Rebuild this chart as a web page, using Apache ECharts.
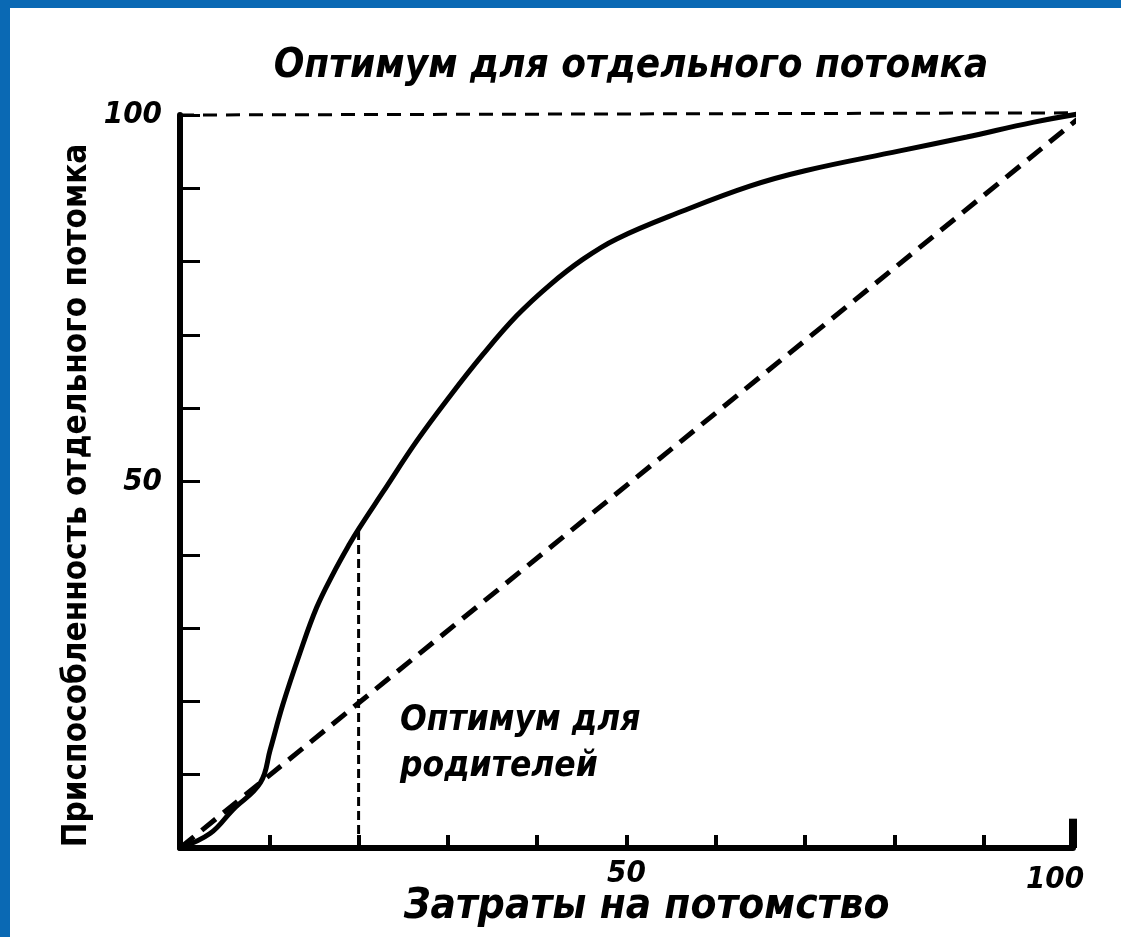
<!DOCTYPE html>
<html>
<head>
<meta charset="utf-8">
<script src="https://cdn.jsdelivr.net/npm/echarts@6/dist/echarts.min.js"></script>
<style>
  html, body { margin: 0; padding: 0; background: #fff; }
  #chart { width: 1121px; height: 937px; }
  .edge { position: absolute; background: #0a69b4; }
</style>
</head>
<body>
<div id="chart"></div>
<div class="edge" style="left:0;top:0;width:10px;height:937px"></div>
<div class="edge" style="left:0;top:0;width:1121px;height:8px"></div>
<script>
// затраты на потомство -> приспособленность (сплошная кривая)
var costX = [0, 3.4, 5.9, 9.0, 10.1, 11.5, 13.4, 15.3, 17.1, 19.0, 20.0, 22.7, 26.5, 30.2, 33.9, 37.7, 41.4, 45.1, 48.9, 56.3, 63.8, 70, 80.6, 88.1, 95.5, 101.4];
var fitness = [0, 2.0, 5.2, 8.9, 13.4, 19.5, 26.5, 32.8, 37.3, 41.5, 43.5, 48.5, 55.5, 61.6, 67.3, 72.6, 76.8, 80.3, 83.1, 86.9, 90.3, 92.4, 95.1, 97.0, 99.0, 100.3];

// пунктирная диагональ и верхняя граница
var diagX = [0, 101.4];
var diagY = [0, 100.3];
var topX = [0, 101.4];
var topY = [100, 100.3];

// оптимум для родителей
var parentX = [20, 20];
var parentY = [0, 43.3];

// высокая засечка в конце оси x
var endTickX = [100, 100];
var endTickY = [0, 4];

var xLabels = [50, 100];
var yLabels = [50, 100];

function pairs(xs, ys) {
  var out = [];
  for (var i = 0; i < xs.length; i++) out.push([xs[i], ys[i]]);
  return out;
}

var font = '"DejaVu Sans Condensed", "Liberation Sans Narrow", "DejaVu Sans", sans-serif';
var labelStyle = { fontFamily: font, fontSize: 31, fontWeight: 'bold', fontStyle: 'italic', color: '#000' };

var chart = echarts.init(document.getElementById('chart'));

var option = {
  backgroundColor: '#fff',
  animation: false,
  title: {
    text: 'Оптимум для отдельного потомка',
    left: 626,
    top: 42,
    textAlign: 'center',
    textStyle: { fontFamily: font, fontSize: 40, fontWeight: 'bold', fontStyle: 'italic', color: '#000' }
  },
  grid: { left: 180, top: 115, right: 48, bottom: 89, outerBoundsMode: 'none', containLabel: false },
  xAxis: {
    type: 'value',
    min: 0,
    max: 100,
    interval: 10,
    splitLine: { show: false },
    axisLine: { lineStyle: { color: '#000', width: 6 } },
    axisTick: { inside: true, length: 13, lineStyle: { color: '#000', width: 4 } },
    axisLabel: {
      margin: 10,
      fontFamily: font, fontSize: 31, fontWeight: 'bold', fontStyle: 'italic', color: '#000',
      formatter: function (v) {
        if (v === 100) return '{end|100}';
        return xLabels.indexOf(v) >= 0 ? String(v) : '';
      },
      rich: {
        end: Object.assign({ padding: [6, 36, 0, 0] }, labelStyle)
      }
    },
    name: 'Затраты на потомство',
    nameLocation: 'middle',
    nameGap: 38,
    nameMoveOverlap: false,
    nameTextStyle: { fontFamily: font, fontSize: 42, fontWeight: 'bold', fontStyle: 'italic', color: '#000', padding: [0, 0, 0, 40] }
  },
  yAxis: {
    type: 'value',
    min: 0,
    max: 100,
    interval: 10,
    splitLine: { show: false },
    axisLine: { lineStyle: { color: '#000', width: 6 } },
    axisTick: { inside: true, length: 20, lineStyle: { color: '#000', width: 3 } },
    axisLabel: {
      margin: 18,
      fontFamily: font, fontSize: 31, fontWeight: 'bold', fontStyle: 'italic', color: '#000',
      formatter: function (v) { return yLabels.indexOf(v) >= 0 ? String(v) : ''; }
    },
    name: 'Приспособленность отдельного потомка',
    nameLocation: 'middle',
    nameRotate: 90,
    nameGap: 86,
    nameMoveOverlap: false,
    nameTextStyle: { fontFamily: font, fontSize: 33, fontWeight: 'bold', color: '#000', padding: [0, 28, 0, 0] }
  },
  graphic: [
    {
      type: 'text',
      left: 400,
      top: 698,
      style: {
        text: 'Оптимум для\nродителей',
        font: 'italic bold 35px ' + font,
        fill: '#000',
        lineHeight: 46
      }
    }
  ],
  series: [
    {
      type: 'line',
      data: pairs(topX, topY),
      symbol: 'none',
      clip: false,
      lineStyle: { color: '#000', width: 3, type: [14, 9] }
    },
    {
      type: 'line',
      data: pairs(diagX, diagY),
      symbol: 'none',
      clip: false,
      lineStyle: { color: '#000', width: 5, type: [18, 10] }
    },
    {
      type: 'line',
      data: pairs(parentX, parentY),
      symbol: 'none',
      lineStyle: { color: '#000', width: 3, type: [9, 5] }
    },
    {
      type: 'line',
      data: pairs(endTickX, endTickY),
      symbol: 'none',
      lineStyle: { color: '#000', width: 8 }
    },
    {
      type: 'line',
      data: pairs(costX, fitness),
      symbol: 'none',
      smooth: 0.4,
      clip: false,
      lineStyle: { color: '#000', width: 5 }
    }
  ]
};

chart.setOption(option);
</script>
</body>
</html>
